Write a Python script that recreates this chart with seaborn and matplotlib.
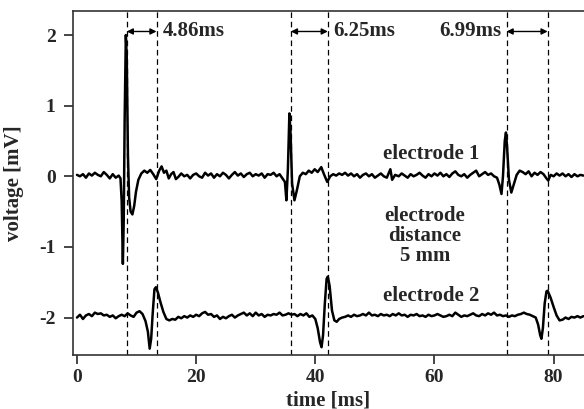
import matplotlib
matplotlib.use("Agg")
import matplotlib.pyplot as plt
import seaborn as sns
import pandas as pd

# ---------------- data ----------------
e1_time = [0.0, 0.5, 1.0, 1.5, 2.0, 2.5, 3.0, 3.5, 4.0, 4.5, 5.0, 5.5, 6.0, 6.5, 7.0, 7.3,
           7.5, 7.7, 7.85, 8.0, 8.2, 8.35, 8.55, 8.75, 9.0, 9.3, 9.6, 9.9, 10.3, 10.8,
           11.3, 11.8, 12.3, 12.8, 13.3, 13.8, 14.2, 14.6, 15.0, 15.4, 15.8, 16.2, 16.6,
           17.0, 17.5, 18.0, 18.5, 19.0, 19.5, 20.0, 20.5, 21.0, 21.5, 22.0, 22.5, 23.0,
           23.5, 24.0, 24.5, 25.0, 25.5, 26.0, 26.5, 27.0, 27.5, 28.0, 28.5, 29.0, 29.5,
           30.0, 30.5, 31.0, 31.5, 32.0, 32.5, 33.0, 33.5, 34.0, 34.5, 34.9, 35.15, 35.4,
           35.65, 35.85, 36.1, 36.5, 36.9, 37.4, 37.9, 38.4, 38.9, 39.4, 39.9, 40.4, 41.0,
           41.5, 42.0, 42.5, 43.0, 43.5, 44.0, 44.5, 45.0, 45.5, 46.0, 46.5, 47.0, 47.5,
           48.0, 48.5, 49.0, 49.5, 50.0, 50.5, 51.0, 51.5, 52.0, 52.6, 52.9, 53.4, 54.0,
           54.5, 55.0, 55.5, 56.0, 56.5, 57.0, 57.5, 58.0, 58.5, 59.0, 59.5, 60.0, 60.5,
           61.0, 61.5, 62.0, 62.5, 63.0, 63.5, 64.0, 64.5, 65.0, 65.5, 66.0, 66.5, 67.0,
           67.5, 68.0, 68.5, 69.0, 69.5, 70.0, 70.5, 70.9, 71.25, 71.5, 71.8, 72.0, 72.2,
           72.5, 72.9, 73.3, 73.8, 74.3, 74.8, 75.3, 75.8, 76.3, 76.8, 77.3, 77.8, 78.3,
           78.8, 79.1, 79.5, 80.0, 80.5, 81.0, 81.5, 82.0, 82.5, 83.0, 83.5, 84.0, 84.5, 85.0]
e1_volt = [0.02, 0.0, 0.03, -0.02, 0.04, 0.01, 0.05, 0.02, 0.0, 0.06, 0.02, -0.03, 0.03, -0.02, 0.01, -0.03,
           -0.35, -1.24, -0.6, 0.8, 2.0, 1.7, 0.3, -0.3, -0.5, -0.54, -0.42, -0.22, -0.05, 0.04,
           0.08, 0.05, 0.09, 0.03, -0.04, 0.08, 0.14, 0.05, 0.08, -0.03, 0.03, 0.06, -0.04,
           -0.01, 0.04, 0.0, 0.02, -0.03, 0.02, 0.04, 0.0, -0.02, 0.05, 0.01, 0.04, -0.02,
           0.03, 0.0, 0.05, 0.02, -0.03, 0.02, 0.06, 0.01, 0.04, -0.01, 0.03, 0.05, 0.0,
           0.03, 0.01, 0.04, -0.02, 0.03, 0.02, 0.05, 0.0, 0.03, -0.03, -0.08, -0.34, 0.1,
           0.89, 0.6, -0.1, -0.34, -0.2, 0.0, 0.05, 0.03, 0.08, 0.05, 0.1, 0.06, 0.13,
           0.02, -0.08, 0.0, 0.03, 0.01, 0.04, 0.02, 0.05, 0.01, 0.04, 0.0, 0.03, -0.02,
           0.02, 0.04, 0.0, 0.03, -0.02, 0.01, 0.04, 0.0, -0.02, 0.1, -0.05, 0.02, 0.0,
           0.04, 0.01, -0.02, 0.03, 0.0, 0.02, 0.05, 0.01, -0.02, 0.03, 0.0, 0.04, 0.01,
           0.05, 0.0, 0.03, -0.01, 0.04, 0.07, 0.02, 0.0, 0.03, -0.02, 0.02, 0.05, 0.08,
           0.0, 0.03, 0.06, 0.02, 0.04, 0.0, -0.02, -0.12, -0.25, 0.0, 0.5, 0.62, 0.4,
           -0.05, -0.23, -0.12, 0.02, 0.08, 0.06, 0.03, 0.07, 0.0, 0.05, 0.02, 0.06, 0.03,
           -0.03, -0.06, 0.02, 0.0, 0.04, 0.01, 0.04, 0.0, 0.03, -0.01, 0.03, 0.0, 0.02, 0.01]

e2_time = [0.0, 0.5, 1.0, 1.5, 2.0, 2.5, 3.0, 3.5, 4.0, 4.5, 5.0, 5.5, 6.0, 6.5, 7.0, 7.5,
           8.0, 8.5, 9.0, 9.5, 10.0, 10.5, 11.0, 11.5, 11.9, 12.2, 12.45, 12.7, 13.0, 13.25,
           13.6, 14.0, 14.5, 15.0, 15.5, 16.0, 16.5, 17.0, 17.5, 18.0, 18.5, 19.0, 19.5,
           20.0, 20.5, 21.0, 21.5, 22.0, 22.5, 23.0, 23.5, 24.0, 24.5, 25.0, 25.5, 26.0,
           26.5, 27.0, 27.5, 28.0, 28.5, 29.0, 29.5, 30.0, 30.5, 31.0, 31.5, 32.0, 32.5,
           33.0, 33.5, 34.0, 34.5, 35.0, 35.5, 36.0, 36.5, 37.0, 37.5, 38.0, 38.5, 39.0,
           39.5, 40.0, 40.4, 40.8, 41.05, 41.3, 41.6, 41.9, 42.1, 42.4, 42.8, 43.2, 43.6,
           44.0, 44.5, 45.0, 45.5, 46.0, 46.5, 47.0, 47.5, 48.0, 48.5, 49.0, 49.5, 50.0,
           50.5, 51.0, 51.5, 52.0, 52.5, 53.0, 53.5, 54.0, 54.5, 55.0, 55.5, 56.0, 56.5,
           57.0, 57.5, 58.0, 58.5, 59.0, 59.5, 60.0, 60.5, 61.0, 61.5, 62.0, 62.5, 63.0,
           63.5, 64.0, 64.5, 65.0, 65.5, 66.0, 66.5, 67.0, 67.5, 68.0, 68.5, 69.0, 69.5,
           70.0, 70.5, 71.0, 71.5, 72.0, 72.5, 73.0, 73.5, 74.0, 74.5, 75.0, 75.5, 76.0,
           76.5, 77.0, 77.4, 77.75, 77.95, 78.2, 78.5, 78.8, 79.0, 79.5, 80.0, 80.5, 81.0,
           81.5, 82.0, 82.5, 83.0, 83.5, 84.0, 84.5, 85.0]
e2_volt = [-2.0, -1.96, -2.02, -1.97, -1.95, -1.98, -1.93, -1.95, -1.94, -1.97, -1.96, -1.99, -1.97, -2.01, -1.98, -1.96,
           -1.98, -1.94, -1.97, -1.99, -1.93, -1.91, -1.95, -2.05, -2.2, -2.44, -2.3, -1.95, -1.6, -1.57,
           -1.65, -1.78, -1.92, -2.02, -2.04, -2.02, -2.03, -1.99, -2.01, -1.98, -2.0, -1.97, -1.99,
           -1.96, -1.98, -1.94, -1.92, -1.96, -1.95, -1.99, -1.97, -2.02, -1.99, -2.01, -1.98, -1.96,
           -2.0, -1.97, -1.95, -1.93, -1.97, -1.94, -1.98, -1.93, -1.97, -1.95, -1.99, -1.96, -1.97,
           -1.95, -1.96, -1.93, -1.97, -1.96, -1.94, -1.96, -1.95, -1.98, -1.95, -1.97, -1.94, -1.99,
           -1.97, -2.02, -2.15, -2.35, -2.42, -2.25, -1.8, -1.45, -1.42, -1.55, -1.9, -2.04, -2.06,
           -2.02, -2.0, -1.99, -1.97, -1.99, -1.96, -1.98, -1.97, -1.95, -1.97, -1.93, -1.97, -1.96,
           -1.98, -1.95, -1.97, -1.96, -1.98, -1.95, -1.97, -1.94, -1.97, -1.96, -1.99, -1.96, -1.97,
           -1.95, -1.98, -1.97, -1.99, -1.96, -1.98, -1.97, -1.95, -1.97, -1.99, -1.98, -1.96, -1.98,
           -1.93, -1.96, -1.99, -1.97, -1.98, -1.96, -1.94, -1.97, -1.98, -1.95, -1.97, -1.94, -1.96,
           -1.93, -1.97, -1.96, -1.98, -1.97, -1.99, -1.97, -1.98, -1.96, -1.95, -1.93, -1.95, -1.96,
           -1.98, -2.0, -2.1, -2.25, -2.3, -2.15, -1.8, -1.63, -1.62, -1.72, -1.85, -1.97, -2.04,
           -2.03, -2.0, -2.02, -1.99, -2.0, -1.98, -2.0, -1.98]

# dashed marker lines (ms) and delay labels
marker_times = [8.35, 13.35, 35.9, 42.1, 72.1, 79.0]
delay_pairs = [(8.35, 13.35), (35.9, 42.1), (72.1, 79.0)]
delay_labels = ["4.86ms", "6.25ms", "6.99ms"]
delay_label_x = [14.4, 43.0, 71.3]
delay_label_ha = ["left", "left", "right"]

x_ticks = [0, 20, 40, 60, 80]
y_ticks = [-2, -1, 0, 1, 2]
y_tick_labels = ["-2", "-1", "0", "1", "2"]

# ---------------- style ----------------
sns.set_style("ticks")
plt.rcParams["font.family"] = ["Liberation Serif", "DejaVu Serif"]
plt.rcParams["font.weight"] = "bold"
plt.rcParams["axes.labelweight"] = "bold"

fig = plt.figure(figsize=(5.84, 4.09), dpi=100)
ax = fig.add_axes([73 / 584, 1 - 355 / 409, 1 - 73 / 584, (355 - 11) / 409])

df = pd.concat([
    pd.DataFrame({"time": e1_time, "voltage": e1_volt, "trace": "electrode 1"}),
    pd.DataFrame({"time": e2_time, "voltage": e2_volt, "trace": "electrode 2"}),
])
sns.lineplot(data=df, x="time", y="voltage", units="trace", estimator=None,
             color="black", lw=1.8, ax=ax, sort=False)

for t in marker_times:
    ax.axvline(t, color="black", lw=0.9, ls=(0, (4.5, 3)), zorder=1)

arrow_y = 2.05
for (a, b), lab, lx, ha in zip(delay_pairs, delay_labels, delay_label_x, delay_label_ha):
    ax.annotate("", xy=(b, arrow_y), xytext=(a, arrow_y),
                arrowprops=dict(arrowstyle="<|-|>", color="black", lw=1.0,
                                mutation_scale=9, shrinkA=0, shrinkB=0))
    ax.text(lx, arrow_y, lab, ha=ha, va="center", fontsize=15, fontweight="bold")

ax.text(59.4, 0.32, "electrode 1", ha="center", va="center", fontsize=15, fontweight="bold")
ax.text(58.4, -0.85, "electrode\ndistance\n5 mm", ha="center", va="center",
        fontsize=15, fontweight="bold", linespacing=1.0)
ax.text(59.4, -1.69, "electrode 2", ha="center", va="center", fontsize=15, fontweight="bold")

ax.set_xlim(-0.67, 85.1)
ax.set_ylim(-2.53, 2.34)
ax.set_xticks(x_ticks)
ax.set_yticks(y_ticks)
ax.set_yticklabels(y_tick_labels)
ax.tick_params(axis="both", direction="out", length=6.5, width=1.2, labelsize=14)
ax.tick_params(axis="x", pad=3.5)
ax.tick_params(axis="y", pad=6)
for lab in ax.get_xticklabels() + ax.get_yticklabels():
    lab.set_fontweight("bold")
for s in ["left", "bottom", "top"]:
    ax.spines[s].set_linewidth(1.2)
    ax.spines[s].set_color("#333333")
ax.spines["right"].set_visible(False)

ax.set_xlabel("time [ms]", fontsize=15, fontweight="bold", labelpad=3)
ax.set_ylabel("voltage [mV]", fontsize=15, fontweight="bold", labelpad=11)

fig.savefig("out.png", dpi=100)
